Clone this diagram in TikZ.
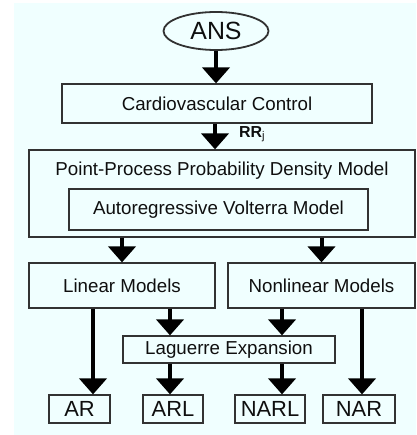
\documentclass[tikz,border=0pt]{standalone}
\usepackage{fontspec}
\setmainfont{Liberation Sans}
\usetikzlibrary{arrows.meta,shapes}
\usepackage{xcolor}

\definecolor{bgcyan}{RGB}{240,255,255}
\definecolor{boxgray}{RGB}{50,50,50}
\definecolor{textgray}{RGB}{15,15,15}
\newcommand{\boxfont}{\fontsize{18.8}{20}\selectfont}
\newcommand{\leaffont}{\fontsize{22}{23}\selectfont}

\begin{document}
\begin{tikzpicture}[x=1bp, y=-1bp,
    every node/.style={
        rectangle,
        inner sep=0pt,
        draw=boxgray,
        line width=1.2bp,
        text=textgray,
        font=\boxfont
    },
    flow/.style={
        line width=4bp,
        -{Triangle[width=27bp, length=16bp]}
    }]
    \useasboundingbox (0,0) rectangle (416,435);
    \fill[bgcyan] (14,3) rectangle (416,435);

    \node (ans) [ellipse, line width=1.8bp, minimum width=105bp, minimum height=38bp, font=\fontsize{25}{27}\selectfont, shift={(216, 31)}]
    {
        ANS
    };



    \node (cardio) [minimum width=310bp, minimum height=39bp, shift={(217, 103.5)}]
    {
        Cardiovascular Control
    };
    \node (rr_label) [draw=none, font=\fontsize{16}{17}\selectfont, shift={(252, 134)}]
    {
        \textbf{RR}\textsubscript{j}
    };



    \node (ppdm) [minimum width=386bp, minimum height=87bp, shift={(222, 193.5)}]
    {
    };
    \node (ppdm_title) [draw=none, shift={(222, 171)}]
    {
        Point-Process Probability Density Model
    };
    \node (avm) [minimum width=299bp, minimum height=41bp, shift={(218.5, 209.5)}]
    {
        Autoregressive Volterra Model
    };



    \node (linear) [minimum width=186bp, minimum height=45bp, shift={(122, 285.5)}]
    {
        Linear Models
    };
    \node (nonlinear) [minimum width=187bp, minimum height=45bp, shift={(321.5, 285.5)}]
    {
        Nonlinear Models
    };



    \node (laguerre) [minimum width=212bp, minimum height=27bp, shift={(229, 349.5)}]
    {
        Laguerre Expansion
    };



    \node (ar) [minimum width=61bp, minimum height=28bp, font=\leaffont, shift={(79.5, 409)}]
    {
        AR
    };
    \node (arl) [minimum width=60bp, minimum height=28bp, font=\leaffont, shift={(173, 409)}]
    {
        ARL
    };
    \node (narl) [minimum width=70bp, minimum height=28bp, font=\leaffont, shift={(270, 409)}]
    {
        NARL
    };
    \node (nar) [minimum width=72bp, minimum height=28bp, font=\leaffont, shift={(359, 409)}]
    {
        NAR
    };




    \draw[flow] (ans.south) to (ans.south |- cardio.north);
    \draw[flow] ([xshift=-2bp]cardio.south) to ([xshift=-2bp]cardio.south |- ppdm.north);
    \draw[flow] (ppdm.south -| linear.north) to (linear.north);
    \draw[flow] (ppdm.south -| nonlinear.north) to (nonlinear.north);
    \draw[flow] ([xshift=-29bp]linear.south) to ([xshift=-29bp]linear.south |- ar.north);
    \draw[flow] ([xshift=48bp]linear.south) to ([xshift=48bp]linear.south |- laguerre.north);
    \draw[flow] ([xshift=-39.5bp]nonlinear.south) to ([xshift=-39.5bp]nonlinear.south |- laguerre.north);
    \draw[flow] ([xshift=40.5bp]nonlinear.south) to ([xshift=40.5bp]nonlinear.south |- nar.north);
    \draw[flow] ([xshift=-59bp]laguerre.south) to ([xshift=-59bp]laguerre.south |- arl.north);
    \draw[flow] ([xshift=53bp]laguerre.south) to ([xshift=53bp]laguerre.south |- narl.north);


\end{tikzpicture}
\end{document}
